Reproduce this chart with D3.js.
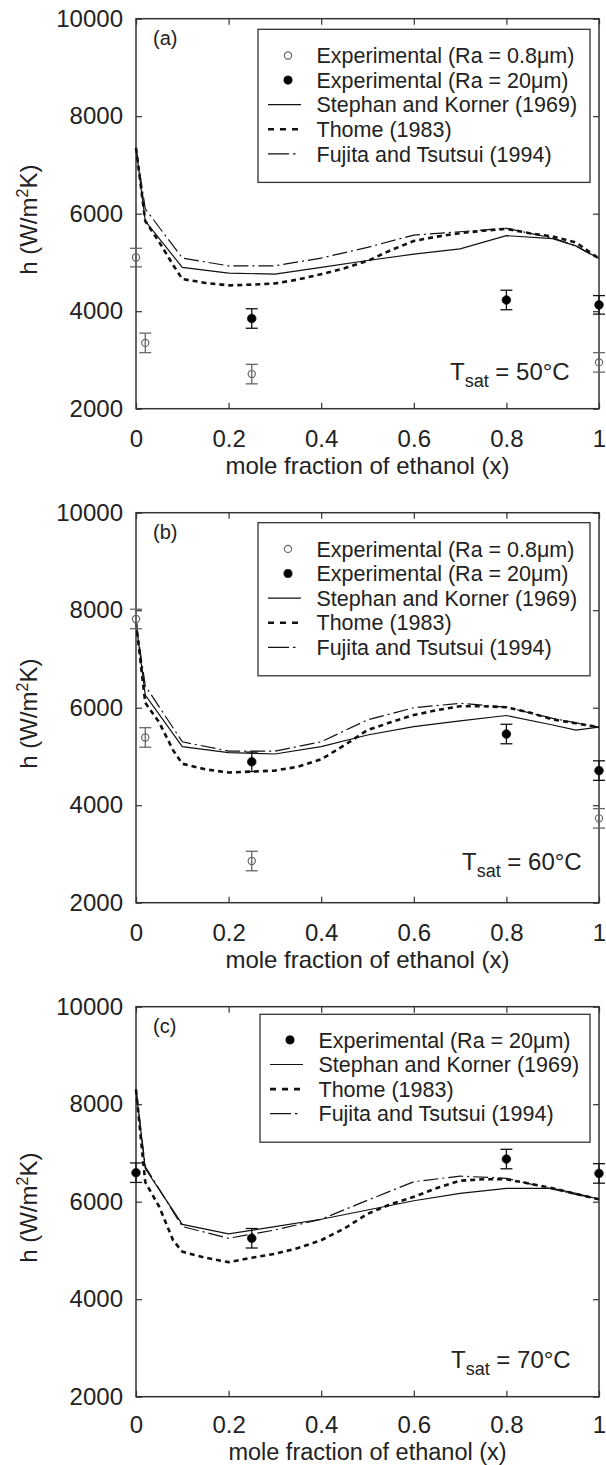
<!DOCTYPE html>
<html>
<head>
<meta charset="utf-8">
<script src="https://cdn.jsdelivr.net/npm/d3@7"></script>
<style>
  body { margin: 0; background: #fff; }
  svg text { font-family: "Liberation Sans", Arial, sans-serif; fill: #222; }
  .tick line { stroke: #333; stroke-width: 1.2; }
  .domain { display: none; }
</style>
</head>
<body>
<svg id="fig" width="606" height="1465"></svg>
<script>
// ---- data ----
var xTicks = [0, 0.2, 0.4, 0.6, 0.8, 1];
var yTicks = [2000, 4000, 6000, 8000, 10000];
var panelLabels = ["(a)", "(b)", "(c)"];
var tsatValues = ["50", "60", "70"];

// x grid of the model curves
var xModel = [0, 0.02, 0.1, 0.2, 0.3, 0.4, 0.5, 0.6, 0.7, 0.8, 0.9, 0.95, 1];
var xThome = [0, 0.02, 0.05, 0.08, 0.1, 0.15, 0.2, 0.25, 0.3, 0.35, 0.4, 0.45, 0.5,
              0.55, 0.6, 0.65, 0.7, 0.75, 0.8, 0.85, 0.9, 0.95, 1];

// (a) Tsat = 50 C
var stephanA = [7350, 5850, 4900, 4780, 4760, 4900, 5040, 5170, 5280, 5550, 5490, 5340, 5080];
var fujitaA  = [7350, 6100, 5090, 4930, 4930, 5090, 5310, 5560, 5630, 5700, 5500, 5340, 5070];
var thomeA   = [7350, 5850, 5420, 4950, 4660, 4580, 4530, 4545, 4570, 4650, 4760, 4880, 5030,
                5250, 5440, 5530, 5600, 5650, 5690, 5600, 5530, 5410, 5080];
var expSmoothXA = [0, 0.02, 0.25, 1];
var expSmoothA  = [5100, 3350, 2710, 2950];
var errSmoothA  = [190, 200, 200, 200];
var expRoughXA  = [0.25, 0.8, 1];
var expRoughA   = [3850, 4230, 4130];
var errRoughA   = [200, 200, 190];

// (b) Tsat = 60 C
var stephanB = [7750, 6260, 5200, 5080, 5050, 5200, 5440, 5610, 5730, 5840, 5645, 5540, 5600];
var fujitaB  = [7750, 6450, 5300, 5110, 5110, 5300, 5750, 6000, 6090, 6010, 5780, 5690, 5600];
var thomeB   = [7750, 6100, 5700, 5130, 4850, 4735, 4670, 4690, 4710, 4790, 4940, 5230, 5540,
                5700, 5850, 5950, 6030, 6030, 6010, 5900, 5760, 5680, 5600];
var expSmoothXB = [0, 0.02, 0.25, 1];
var expSmoothB  = [7820, 5390, 2855, 3730];
var errSmoothB  = [200, 200, 200, 200];
var expRoughXB  = [0.25, 0.8, 1];
var expRoughB   = [4890, 5460, 4710];
var errRoughB   = [200, 200, 200];

// (c) Tsat = 70 C
var stephanC = [8300, 6680, 5535, 5340, 5490, 5640, 5830, 6020, 6170, 6275, 6275, 6170, 6050];
var fujitaC  = [8300, 6720, 5490, 5250, 5420, 5640, 6030, 6410, 6525, 6480, 6255, 6150, 6050];
var thomeC   = [8300, 6400, 5900, 5210, 4975, 4850, 4760, 4850, 4930, 5050, 5210, 5450, 5750,
                5950, 6100, 6280, 6430, 6460, 6460, 6370, 6275, 6160, 6050];
var expRoughXC = [0, 0.25, 0.8, 1];
var expRoughC  = [6595, 5250, 6875, 6580];
var errRoughC  = [200, 200, 200, 200];

// ---- layout ----
var svg = d3.select("svg#fig");
var plotLeft = 136, plotW = 463, plotH = 390;
var panelTops = [18.7, 512.7, 1006.7];

var x = d3.scaleLinear().domain([0, 1]).range([0, plotW]);
var y = d3.scaleLinear().domain([2000, 10000]).range([plotH, 0]);

function zip(xs, ys, es) {
  return xs.map(function(d, i) { return {x: d, h: ys[i], e: es ? es[i] : 0}; });
}

var panels = [
  {
    stephan: zip(xModel, stephanA), fujita: zip(xModel, fujitaA), thome: zip(xThome, thomeA),
    smooth: zip(expSmoothXA, expSmoothA, errSmoothA), rough: zip(expRoughXA, expRoughA, errRoughA),
    tsatX: 450, tsatY: 361.5, legendW: 332, legendTop: 10.6, firstRow: 26.2,
    tickPad: 21, xTitle: 65, xTitleSize: 24
  },
  {
    stephan: zip(xModel, stephanB), fujita: zip(xModel, fujitaB), thome: zip(xThome, thomeB),
    smooth: zip(expSmoothXB, expSmoothB, errSmoothB), rough: zip(expRoughXB, expRoughB, errRoughB),
    tsatX: 462, tsatY: 357.5, legendW: 332, legendTop: 10, firstRow: 26.2,
    tickPad: 21, xTitle: 65, xTitleSize: 24
  },
  {
    stephan: zip(xModel, stephanC), fujita: zip(xModel, fujitaC), thome: zip(xThome, thomeC),
    smooth: [], rough: zip(expRoughXC, expRoughC, errRoughC),
    tsatX: 451, tsatY: 361.5, legendW: 330, legendTop: 7.6, firstRow: 25.6,
    tickPad: 19.5, xTitle: 63.3, xTitleSize: 23.5
  }
];

var styles = {
  stephan: {width: 1.2, dash: null},
  thome:   {width: 2.6, dash: "5,4"},
  fujita:  {width: 1.2, dash: "15,4,2,4"}
};
var legendDash = {stephan: null, thome: "6,6", fujita: "21,4,2.5,10"};

var line = d3.line()
  .x(function(d) { return x(d.x); })
  .y(function(d) { return y(d.h); });

panels.forEach(function(p, k) {
  var g = svg.append("g")
    .attr("transform", "translate(" + plotLeft + "," + panelTops[k] + ")");

  // axes, ticks pointing inwards on all four sides
  g.append("g")
    .attr("transform", "translate(0," + plotH + ")")
    .call(d3.axisBottom(x).tickValues(xTicks).tickSizeInner(-6).tickSizeOuter(0).tickPadding(p.tickPad)
      .tickFormat(d3.format("")))
    .selectAll("text").style("font-size", "24px");
  g.append("g")
    .call(d3.axisTop(x).tickValues(xTicks).tickSizeInner(-6).tickSizeOuter(0).tickFormat(""));
  g.append("g")
    .call(d3.axisLeft(y).tickValues(yTicks).tickSizeInner(-6).tickSizeOuter(0).tickPadding(13)
      .tickFormat(d3.format("d")))
    .selectAll("text").style("font-size", "24px");
  g.append("g")
    .attr("transform", "translate(" + plotW + ",0)")
    .call(d3.axisRight(y).tickValues(yTicks).tickSizeInner(-6).tickSizeOuter(0).tickFormat(""));

  g.append("rect")
    .attr("width", plotW).attr("height", plotH)
    .attr("fill", "none").attr("stroke", "#333").attr("stroke-width", 1.5);

  // model curves
  ["stephan", "thome", "fujita"].forEach(function(key) {
    g.append("path")
      .datum(p[key])
      .attr("d", line)
      .attr("fill", "none")
      .attr("stroke", "#111")
      .attr("stroke-width", styles[key].width)
      .attr("stroke-dasharray", styles[key].dash);
  });

  // experimental points with error bars
  function drawExp(data, open) {
    var col = open ? "#666" : "#111";
    var eg = g.append("g").selectAll("g").data(data).enter().append("g");
    eg.append("line")
      .attr("x1", function(d) { return x(d.x); }).attr("x2", function(d) { return x(d.x); })
      .attr("y1", function(d) { return y(d.h - d.e); }).attr("y2", function(d) { return y(d.h + d.e); })
      .attr("stroke", col).attr("stroke-width", 1.3);
    [-1, 1].forEach(function(s) {
      eg.append("line")
        .attr("x1", function(d) { return x(d.x) - 6; }).attr("x2", function(d) { return x(d.x) + 6; })
        .attr("y1", function(d) { return y(d.h + s * d.e); }).attr("y2", function(d) { return y(d.h + s * d.e); })
        .attr("stroke", col).attr("stroke-width", 1.3);
    });
    eg.append("circle")
      .attr("cx", function(d) { return x(d.x); })
      .attr("cy", function(d) { return y(d.h); })
      .attr("r", open ? 3.6 : 4.3)
      .attr("fill", open ? "none" : "#000")
      .attr("stroke", col).attr("stroke-width", open ? 1.2 : 0.8);
  }
  drawExp(p.smooth, true);
  drawExp(p.rough, false);

  // legend
  var entries = [];
  if (p.smooth.length) entries.push({type: "open", label: "Experimental (Ra = 0.8\u03bcm)"});
  entries.push({type: "filled", label: "Experimental (Ra = 20\u03bcm)"});
  entries.push({type: "stephan", label: "Stephan and Korner (1969)"});
  entries.push({type: "thome", label: "Thome (1983)"});
  entries.push({type: "fujita", label: "Fujita and Tsutsui (1994)"});

  var lx = plotW - 9 - p.legendW, ly = p.legendTop, rowH = 24.6;
  var lg = g.append("g").attr("transform", "translate(" + lx + "," + ly + ")");
  lg.append("rect")
    .attr("width", p.legendW)
    .attr("height", p.firstRow + rowH * (entries.length - 1) + 28.5)
    .attr("fill", "#fff").attr("stroke", "#333").attr("stroke-width", 1.3);
  var rows = lg.selectAll("g.row").data(entries).enter().append("g")
    .attr("class", "row")
    .attr("transform", function(d, i) { return "translate(0," + (p.firstRow + i * rowH) + ")"; });
  rows.each(function(d) {
    var r = d3.select(this);
    if (d.type === "open" || d.type === "filled") {
      r.append("circle").attr("cx", 30).attr("cy", 0)
        .attr("r", d.type === "open" ? 3.6 : 4.1)
        .attr("fill", d.type === "open" ? "none" : "#000")
        .attr("stroke", d.type === "open" ? "#666" : "#111")
        .attr("stroke-width", d.type === "open" ? 1.2 : 0.8);
    } else {
      r.append("line").attr("x1", 10).attr("x2", 43).attr("y1", 0).attr("y2", 0)
        .attr("stroke", "#111")
        .attr("stroke-width", styles[d.type].width)
        .attr("stroke-dasharray", legendDash[d.type]);
    }
    r.append("text").attr("x", 58.5).attr("y", 7.6)
      .style("font-size", "21.5px").text(d.label);
  });

  // panel label and saturation temperature
  g.append("text").attr("x", 17).attr("y", 26.5)
    .style("font-size", "20px").text(panelLabels[k]);

  var t = g.append("text").attr("x", p.tsatX - plotLeft).attr("y", p.tsatY)
    .style("font-size", "24px");
  t.append("tspan").text("T");
  t.append("tspan").attr("dy", 7).style("font-size", "18px").text("sat");
  t.append("tspan").attr("dy", -7).text(" = " + tsatValues[k] + "\u00b0C");

  // axis titles
  g.append("text")
    .attr("x", plotW / 2).attr("y", plotH + p.xTitle)
    .attr("text-anchor", "middle")
    .style("font-size", p.xTitleSize + "px")
    .text("mole fraction of ethanol (x)");

  var yl = g.append("text")
    .attr("transform", "translate(" + (37 - plotLeft) + "," + (plotH / 2 + 6) + ") rotate(-90)")
    .attr("text-anchor", "middle")
    .style("font-size", "24px");
  yl.append("tspan").text("h (W/m");
  yl.append("tspan").attr("dy", -9).style("font-size", "16px").text("2");
  yl.append("tspan").attr("dy", 9).text("K)");
});
</script>
</body>
</html>
